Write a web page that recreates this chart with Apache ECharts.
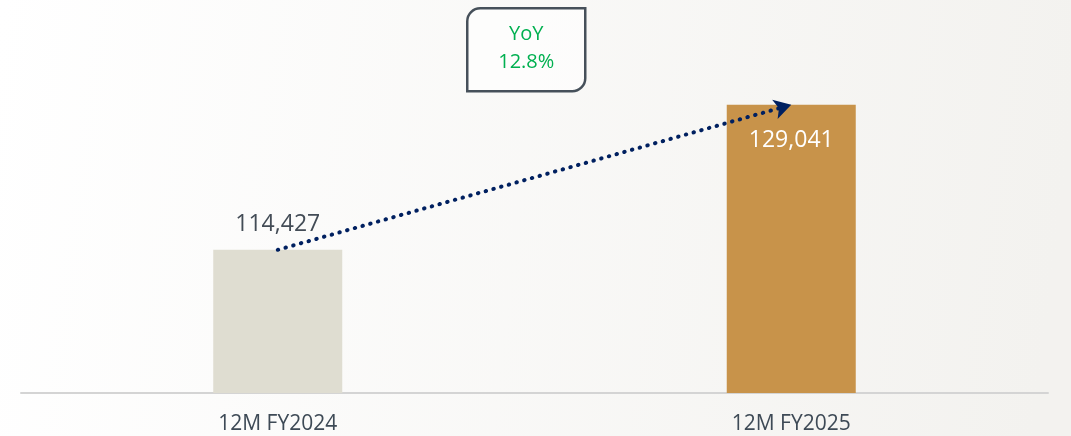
<!DOCTYPE html>
<html>
<head>
<meta charset="utf-8">
<script src="https://cdn.jsdelivr.net/npm/echarts@6/dist/echarts.min.js"></script>
<style>
	html, body { margin:0; padding:0; }
	#main { width:1071px; height:436px; }
</style>
</head>
<body>
<div id="main"></div>
<script type="text/javascript">
	var categories = ['12M FY2024', '12M FY2025'];
	var values = [114427, 129041];
	var barColors = ['#dfddd1', '#c8934a'];
	var yoyText = ['YoY', '12.8%'];

	var chart = echarts.init(document.getElementById('main'));

	var barData = values.map(function (v, i) {
		return {
			value: v,
			itemStyle: { color: barColors[i] },
			label: i === 0
				? { show: true, position: 'top', distance: 14, color: '#434c56' }
				: { show: true, position: 'insideTop', distance: 24, color: '#ffffff' }
		};
	});

	chart.setOption({
		animation: false,
		backgroundColor: {
			type: 'linear', x: 0, y: 0, x2: 1, y2: 0.3,
			colorStops: [{ offset: 0, color: '#ffffff' }, { offset: 1, color: '#f3f2ef' }]
		},
		textStyle: { fontFamily: 'Open Sans' },
		grid: { left: 21, right: 23, top: 0, bottom: 43 },
		xAxis: {
			type: 'category',
			data: categories,
			axisLine: { show: true, lineStyle: { color: '#d4d4d4', width: 2 } },
			axisTick: { show: false },
			axisLabel: { fontSize: 21, color: '#3e4a56', margin: 21 }
		},
		yAxis: {
			type: 'value',
			min: 100000,
			max: 139600,
			show: false,
			splitLine: { show: false }
		},
		series: [
			{
				type: 'bar',
				barWidth: 129,
				data: barData,
				label: {
					fontSize: 23,
					formatter: function (p) { return p.value.toLocaleString('en-US'); }
				},
				markLine: {
					silent: true,
					symbol: ['none', 'arrow'],
					symbolSize: [15, 17],
					label: { show: false },
					lineStyle: { type: [0.5, 7.5], width: 4, color: '#002060', cap: 'round' },
					data: [[
						{ coord: [0, values[0]] },
						{ coord: [1, values[1]] }
					]]
				}
			}
		],
		graphic: [
			{
				type: 'group',
				left: 466, top: 7,
				children: [
					{
						type: 'rect',
						shape: { x: 1, y: 1, width: 118, height: 83, r: [13, 0, 13, 0] },
						style: { fill: 'rgba(255,255,255,0.6)', stroke: '#46505a', lineWidth: 2.5 }
					},
					{
						type: 'text',
						x: 60, y: 27,
						style: { text: yoyText[0], fill: '#00b050', font: '20px "Open Sans"', align: 'center', verticalAlign: 'middle' }
					},
					{
						type: 'text',
						x: 60, y: 55,
						style: { text: yoyText[1], fill: '#00b050', font: '20px "Open Sans"', align: 'center', verticalAlign: 'middle' }
					}
				]
			}
		]
	});
</script>
</body>
</html>
